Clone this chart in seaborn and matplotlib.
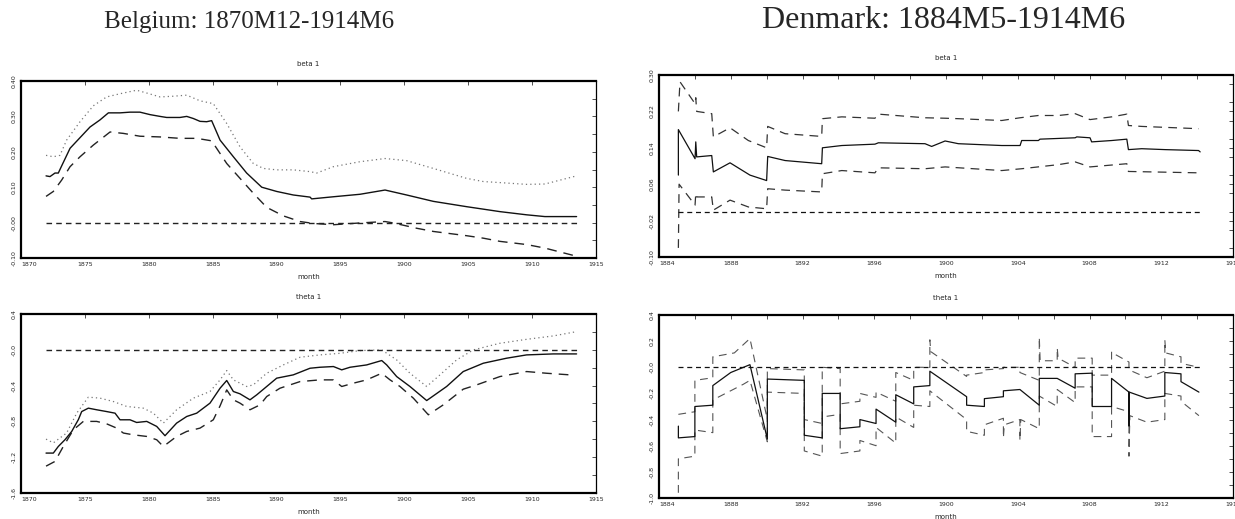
import matplotlib
matplotlib.use('Agg')
import matplotlib.pyplot as plt
import seaborn as sns
import numpy as np
from matplotlib.ticker import MultipleLocator

# ---- Belgium, beta 1 ----
bel_beta_est_x = [1871.96, 1872.27, 1872.66, 1872.92, 1873.18, 1873.84, 1874.62, 1875.40, 1876.18,
                  1876.84, 1877.75, 1878.53, 1879.31, 1880.10, 1880.88, 1881.40, 1882.44, 1882.97,
                  1883.49, 1884.01, 1884.53, 1884.92, 1885.58, 1886.62, 1887.66, 1888.84, 1890.01,
                  1891.31, 1892.62, 1892.75, 1894.45, 1896.53, 1898.49, 1900.18, 1902.27, 1904.87,
                  1906.18, 1907.48, 1909.57, 1911.00, 1913.48]
bel_beta_est = [0.132, 0.13, 0.14, 0.14, 0.16, 0.21, 0.24, 0.27, 0.29, 0.31, 0.31, 0.312, 0.312,
                0.305, 0.30, 0.297, 0.297, 0.30, 0.294, 0.286, 0.285, 0.288, 0.233, 0.186, 0.14,
                0.10, 0.088, 0.078, 0.072, 0.067, 0.073, 0.08, 0.092, 0.078, 0.06, 0.045, 0.038,
                0.031, 0.022, 0.017, 0.017]
bel_beta_up_x = [1871.96, 1872.53, 1873.05, 1873.57, 1874.62, 1875.66, 1876.70, 1877.75, 1879.05,
                 1879.84, 1880.88, 1881.92, 1882.97, 1884.01, 1885.05, 1886.10, 1887.14, 1888.18,
                 1888.97, 1890.01, 1891.31, 1892.62, 1893.14, 1894.45, 1896.53, 1898.49, 1900.18,
                 1902.27, 1904.87, 1906.18, 1907.48, 1909.57, 1911.00, 1913.48]
bel_beta_up = [0.19, 0.186, 0.19, 0.233, 0.285, 0.33, 0.355, 0.364, 0.374, 0.366, 0.355, 0.357,
               0.36, 0.344, 0.336, 0.28, 0.214, 0.167, 0.153, 0.149, 0.149, 0.144, 0.14, 0.158,
               0.172, 0.181, 0.175, 0.153, 0.125, 0.116, 0.113, 0.108, 0.109, 0.132]
bel_beta_lo_x = [1871.96, 1872.53, 1873.18, 1873.84, 1874.62, 1875.66, 1876.97, 1878.01, 1879.31,
                 1880.88, 1882.44, 1883.75, 1884.92, 1886.10, 1887.14, 1888.18, 1889.23, 1890.53,
                 1891.84, 1892.62, 1893.14, 1894.45, 1896.53, 1898.49, 1899.14, 1900.97, 1902.27,
                 1904.87, 1906.18, 1907.48, 1909.57, 1911.00, 1913.48]
bel_beta_lo = [0.074, 0.088, 0.12, 0.158, 0.186, 0.219, 0.256, 0.252, 0.244, 0.242, 0.238, 0.238,
               0.231, 0.167, 0.125, 0.083, 0.043, 0.019, 0.003, -0.001, -0.003, -0.006, -0.001,
               0.003, -0.001, -0.016, -0.025, -0.037, -0.044, -0.053, -0.062, -0.072, -0.095]

# ---- Belgium, theta 1 ----
bel_theta_est_x = [1871.96, 1872.53, 1872.92, 1873.44, 1873.97, 1874.49, 1874.75, 1875.27, 1875.92,
                   1876.70, 1877.36, 1877.75, 1878.53, 1879.05, 1879.84, 1880.62, 1881.27, 1882.18,
                   1882.97, 1883.75, 1884.27, 1884.79, 1885.58, 1886.10, 1886.62, 1887.14, 1887.92,
                   1888.45, 1889.23, 1890.01, 1891.31, 1892.62, 1893.40, 1894.45, 1895.10, 1895.75,
                   1897.05, 1898.23, 1898.62, 1899.40, 1900.44, 1901.75, 1903.31, 1904.61, 1906.18,
                   1908.00, 1909.57, 1911.66, 1913.48]
bel_theta_est = [-1.154, -1.154, -1.08, -1.005, -0.912, -0.78, -0.69, -0.652, -0.67, -0.69, -0.708,
                 -0.782, -0.782, -0.812, -0.80, -0.856, -0.96, -0.819, -0.745, -0.708, -0.652,
                 -0.596, -0.429, -0.343, -0.466, -0.492, -0.559, -0.503, -0.41, -0.317, -0.28,
                 -0.206, -0.195, -0.187, -0.224, -0.195, -0.169, -0.12, -0.169, -0.299, -0.41,
                 -0.567, -0.41, -0.243, -0.15, -0.094, -0.057, -0.046, -0.046]
bel_theta_up_x = [1871.96, 1872.53, 1873.57, 1874.36, 1875.27, 1876.18, 1877.23, 1878.27, 1879.57,
                  1880.36, 1881.14, 1882.18, 1883.49, 1884.79, 1885.58, 1886.10, 1886.62, 1887.66,
                  1888.18, 1889.23, 1890.53, 1891.84, 1893.40, 1894.97, 1896.53, 1898.23, 1899.40,
                  1900.44, 1901.75, 1902.79, 1904.09, 1905.40, 1907.48, 1909.57, 1911.66, 1913.48]
bel_theta_up = [-0.998, -1.04, -0.93, -0.708, -0.529, -0.54, -0.578, -0.633, -0.652, -0.708, -0.819,
                -0.67, -0.54, -0.466, -0.336, -0.232, -0.336, -0.41, -0.392, -0.262, -0.169,
                -0.083, -0.057, -0.039, -0.009, -0.001, -0.113, -0.262, -0.41, -0.28, -0.113,
                -0.001, 0.073, 0.117, 0.155, 0.203]
bel_theta_lo_x = [1871.96, 1872.66, 1873.31, 1874.10, 1874.88, 1875.92, 1876.70, 1877.49, 1878.01,
                  1878.79, 1879.84, 1880.62, 1881.14, 1882.18, 1882.97, 1884.01, 1885.05, 1885.58,
                  1886.10, 1886.62, 1887.14, 1887.92, 1888.71, 1889.23, 1890.27, 1891.84, 1893.40,
                  1894.45, 1895.10, 1896.01, 1897.05, 1898.23, 1898.88, 1899.66, 1900.71, 1901.88,
                  1903.05, 1904.61, 1905.66, 1907.48, 1909.57, 1911.13, 1912.96]
bel_theta_lo = [-1.30, -1.247, -1.08, -0.894, -0.80, -0.80, -0.827, -0.875, -0.93, -0.95, -0.968,
                -1.005, -1.08, -0.968, -0.912, -0.875, -0.782, -0.626, -0.448, -0.559, -0.596,
                -0.67, -0.615, -0.522, -0.429, -0.355, -0.336, -0.336, -0.41, -0.373, -0.336,
                -0.262, -0.336, -0.41, -0.541, -0.726, -0.615, -0.44, -0.392, -0.299, -0.243,
                -0.262, -0.28]
bel_span = [1871.96, 1913.48]

# ---- Denmark, beta 1 ----
dk_beta_est_x = [1885.08, 1885.08, 1886.01, 1886.05, 1886.10, 1886.94, 1887.03, 1887.96, 1889.07,
                 1890.00, 1890.06, 1891.03, 1893.07, 1893.11, 1894.19, 1896.04, 1896.23, 1898.83,
                 1899.20, 1899.95, 1900.69, 1903.11, 1904.13, 1904.22, 1905.15, 1905.24, 1907.20,
                 1907.29, 1908.03, 1908.12, 1909.24, 1910.08, 1910.17, 1910.91, 1912.22, 1914.08,
                 1914.17]
dk_beta_est = [0.08, 0.18, 0.116, 0.153, 0.12, 0.123, 0.087, 0.107, 0.08, 0.068, 0.121, 0.112,
               0.105, 0.14, 0.145, 0.148, 0.151, 0.149, 0.143, 0.155, 0.149, 0.145, 0.145, 0.156,
               0.156, 0.159, 0.162, 0.164, 0.162, 0.153, 0.156, 0.159, 0.136, 0.138, 0.136, 0.134,
               0.131]
dk_beta_up_x = [1885.08, 1885.17, 1886.01, 1886.05, 1886.10, 1886.94, 1887.03, 1887.96, 1888.98,
                1890.00, 1890.06, 1891.03, 1893.07, 1893.11, 1894.19, 1896.04, 1896.23, 1898.83,
                1899.95, 1900.69, 1903.11, 1904.13, 1905.15, 1906.27, 1907.20, 1908.03, 1909.24,
                1910.08, 1910.17, 1910.91, 1914.08]
dk_beta_up = [0.22, 0.285, 0.237, 0.25, 0.22, 0.215, 0.164, 0.184, 0.156, 0.14, 0.187, 0.171, 0.165,
              0.204, 0.208, 0.205, 0.214, 0.206, 0.205, 0.204, 0.20, 0.206, 0.211, 0.211, 0.215,
              0.202, 0.208, 0.214, 0.189, 0.187, 0.182]
dk_beta_lo_x = [1885.08, 1885.12, 1886.01, 1886.05, 1886.10, 1886.94, 1887.03, 1887.96, 1888.98,
                1890.00, 1890.06, 1891.03, 1893.07, 1893.11, 1894.19, 1896.04, 1896.23, 1898.83,
                1899.95, 1903.11, 1904.22, 1906.27, 1907.20, 1908.03, 1910.08, 1910.17, 1914.08]
dk_beta_lo = [-0.08, 0.06, 0.014, 0.04, 0.032, 0.032, 0.003, 0.025, 0.01, 0.006, 0.05, 0.047, 0.043,
              0.083, 0.09, 0.085, 0.096, 0.094, 0.098, 0.09, 0.094, 0.103, 0.109, 0.098, 0.105,
              0.088, 0.085]

# ---- Denmark, theta 1 ----
dk_theta_est_x = [1885.08, 1885.08, 1886.0, 1886.0, 1887.0, 1887.0, 1888.0, 1889.07, 1890.04,
                  1890.04, 1892.1, 1892.1, 1893.1, 1893.1, 1894.1, 1894.1, 1895.2, 1895.2, 1896.1,
                  1896.1, 1897.2, 1897.2, 1898.2, 1898.2, 1899.1, 1899.1, 1901.15, 1901.15, 1902.14,
                  1902.14, 1903.2, 1903.2, 1904.12, 1905.2, 1905.2, 1906.2, 1907.2, 1907.2, 1908.15,
                  1908.15, 1909.23, 1909.23, 1910.2, 1910.2, 1910.22, 1911.2, 1912.2, 1912.2, 1913.1,
                  1913.1, 1914.1]
dk_theta_est = [-0.45, -0.54, -0.53, -0.30, -0.29, -0.14, -0.04, 0.02, -0.55, -0.09, -0.10, -0.52,
                -0.54, -0.20, -0.20, -0.47, -0.455, -0.40, -0.43, -0.32, -0.42, -0.21, -0.28, -0.15,
                -0.14, -0.03, -0.225, -0.29, -0.30, -0.24, -0.225, -0.18, -0.17, -0.29, -0.085,
                -0.085, -0.16, -0.05, -0.045, -0.30, -0.30, -0.085, -0.19, -0.45, -0.19, -0.238,
                -0.22, -0.04, -0.05, -0.11, -0.19]
dk_theta_up_x = [1885.08, 1886.0, 1886.0, 1887.0, 1887.0, 1888.2, 1889.07, 1890.04, 1890.04, 1892.1,
                 1892.1, 1893.1, 1893.1, 1894.1, 1894.1, 1895.2, 1895.2, 1896.1, 1896.1, 1897.2,
                 1897.2, 1898.2, 1898.2, 1899.1, 1899.1, 1899.15, 1901.15, 1901.15, 1902.14, 1902.14,
                 1903.2, 1903.2, 1904.12, 1904.12, 1905.2, 1905.2, 1905.25, 1906.2, 1906.2, 1906.25,
                 1907.2, 1907.2, 1908.15, 1908.15, 1909.23, 1909.23, 1909.28, 1910.2, 1910.2, 1911.2,
                 1912.2, 1912.2, 1912.25, 1913.1, 1913.1, 1914.1]
dk_theta_up = [-0.36, -0.34, -0.10, -0.08, 0.08, 0.11, 0.22, -0.40, -0.01, -0.02, -0.40, -0.43, 0.0,
               -0.01, -0.28, -0.26, -0.20, -0.23, -0.19, -0.26, -0.04, -0.10, 0.0, 0.0, 0.21, 0.12,
               -0.07, -0.06, -0.04, -0.02, -0.01, 0.0, 0.0, -0.04, -0.10, 0.23, 0.05, 0.05, 0.15,
               0.07, 0.0, 0.07, 0.07, -0.06, -0.06, 0.12, 0.11, 0.04, -0.02, -0.08, -0.03, 0.21,
               0.11, 0.08, 0.03, 0.0]
dk_theta_lo_x = [1885.08, 1885.08, 1886.0, 1886.0, 1887.0, 1887.0, 1888.7, 1889.07, 1890.04, 1890.04,
                 1892.1, 1892.1, 1893.1, 1893.1, 1894.1, 1894.1, 1895.2, 1895.2, 1896.1, 1896.1,
                 1897.2, 1897.2, 1898.2, 1898.2, 1899.1, 1899.1, 1901.15, 1901.15, 1902.14, 1902.14,
                 1903.2, 1903.2, 1903.25, 1904.12, 1904.12, 1904.17, 1905.2, 1905.2, 1906.2, 1906.2,
                 1907.2, 1907.2, 1908.15, 1908.15, 1909.23, 1909.23, 1910.2, 1910.2, 1910.25, 1911.2,
                 1912.2, 1912.2, 1913.1, 1913.1, 1914.1]
dk_theta_lo = [-0.96, -0.70, -0.68, -0.48, -0.50, -0.25, -0.13, -0.10, -0.57, -0.19, -0.20, -0.64,
               -0.68, -0.38, -0.36, -0.66, -0.64, -0.56, -0.60, -0.46, -0.58, -0.38, -0.46, -0.29,
               -0.30, -0.18, -0.40, -0.49, -0.52, -0.44, -0.39, -0.54, -0.44, -0.40, -0.56, -0.40,
               -0.47, -0.22, -0.30, -0.17, -0.27, -0.15, -0.15, -0.53, -0.53, -0.30, -0.34, -0.68,
               -0.37, -0.42, -0.40, -0.20, -0.22, -0.26, -0.37]
dk_span = [1885.08, 1914.17]

# axis ticks and labels
bel_xticks = [1870, 1875, 1880, 1885, 1890, 1895, 1900, 1905, 1910, 1915]
dk_xticks = [1884, 1888, 1892, 1896, 1900, 1904, 1908, 1912, 1916]
bel_beta_yticks = [-0.10, 0.0, 0.10, 0.20, 0.30, 0.40]
bel_beta_ylabels = ['-0.10', '-0.00', '0.10', '0.20', '0.30', '0.40']
bel_theta_yticks = [-1.6, -1.2, -0.8, -0.4, 0.0, 0.4]
bel_theta_ylabels = ['-1.6', '-1.2', '-0.8', '-0.4', '-0.0', '0.4']
dk_beta_yticks = [-0.10, -0.02, 0.06, 0.14, 0.22, 0.30]
dk_beta_ylabels = ['-0.10', '-0.02', '0.06', '0.14', '0.22', '0.30']
dk_theta_yticks = [-1.0, -0.8, -0.6, -0.4, -0.2, 0.0, 0.2, 0.4]
dk_theta_ylabels = ['-1.0', '-0.8', '-0.6', '-0.4', '-0.2', '-0.0', '0.2', '0.4']

sns.set_style('white')
plt.rcParams['font.family'] = ['DejaVu Sans']

fig = plt.figure(figsize=(12.35, 5.19), dpi=100)

LONG_DASH = (0, (7, 5))
SHORT_DASH = (0, (4, 3))


def line(ax, x, y, color, ls, lw):
    sns.lineplot(x=x, y=y, ax=ax, estimator=None, sort=False, color=color,
                 linestyle=ls, linewidth=lw)


def style_panel(ax, title, xlim, ylim, xticks, yticks, ylabels, xminor, yminor):
    ax.set_xlim(*xlim)
    ax.set_ylim(*ylim)
    ax.set_xticks(xticks)
    ax.set_xticklabels([str(t) for t in xticks], fontsize=4.5)
    # first year label sits just right of the corner, like the original
    ax.get_xticklabels()[0].set_ha('left')
    ax.set_yticks(yticks)
    ax.set_yticklabels(ylabels, fontsize=4.5, rotation=90, va='center')
    ax.xaxis.set_minor_locator(MultipleLocator(xminor))
    ax.yaxis.set_minor_locator(MultipleLocator(yminor))
    ax.tick_params(which='both', direction='in', top=True, right=True,
                   length=3, width=0.6, pad=3, color='#333333')
    ax.tick_params(axis='x', which='minor', bottom=False)
    ax.set_title(title, fontsize=5, pad=11)
    ax.set_xlabel('month', fontsize=5, labelpad=5)
    ax.set_ylabel('')
    for side in ['top', 'left', 'bottom']:
        ax.spines[side].set_linewidth(1.6)
        ax.spines[side].set_color('black')
    ax.spines['right'].set_linewidth(0.9)
    ax.spines['right'].set_color('black')


# Belgium beta
ax1 = fig.add_axes([21 / 1235, 1 - 258 / 519, 575 / 1235, 177 / 519])
line(ax1, bel_beta_up_x, bel_beta_up, '#777777', (0, (1, 2.5)), 0.9)
line(ax1, bel_beta_lo_x, bel_beta_lo, '#222222', LONG_DASH, 1.0)
line(ax1, bel_beta_est_x, bel_beta_est, '#111111', '-', 1.0)
line(ax1, bel_span, [0, 0], '#222222', SHORT_DASH, 1.0)
style_panel(ax1, 'beta 1', (1870, 1915), (-0.10, 0.40), bel_xticks,
            bel_beta_yticks, bel_beta_ylabels, 5, 0.05)

# Belgium theta
ax2 = fig.add_axes([21 / 1235, 1 - 493 / 519, 575 / 1235, 179 / 519])
line(ax2, bel_theta_up_x, bel_theta_up, '#777777', (0, (1, 2.5)), 0.9)
line(ax2, bel_theta_lo_x, bel_theta_lo, '#222222', LONG_DASH, 1.0)
line(ax2, bel_theta_est_x, bel_theta_est, '#111111', '-', 1.0)
line(ax2, bel_span, [0, 0], '#222222', SHORT_DASH, 1.0)
style_panel(ax2, 'theta 1', (1870, 1915), (-1.6, 0.4), bel_xticks,
            bel_theta_yticks, bel_theta_ylabels, 5, 0.2)

# Denmark beta
ax3 = fig.add_axes([659 / 1235, 1 - 257 / 519, 574 / 1235, 182 / 519])
line(ax3, dk_beta_up_x, dk_beta_up, '#333333', LONG_DASH, 0.9)
line(ax3, dk_beta_lo_x, dk_beta_lo, '#333333', LONG_DASH, 0.9)
line(ax3, dk_beta_est_x, dk_beta_est, '#111111', '-', 0.9)
line(ax3, dk_span, [0, 0], '#111111', SHORT_DASH, 0.9)
style_panel(ax3, 'beta 1', (1884, 1916), (-0.10, 0.30), dk_xticks,
            dk_beta_yticks, dk_beta_ylabels, 2, 0.04)

# Denmark theta
ax4 = fig.add_axes([659 / 1235, 1 - 498 / 519, 574 / 1235, 183 / 519])
line(ax4, dk_theta_up_x, dk_theta_up, '#555555', LONG_DASH, 0.8)
line(ax4, dk_theta_lo_x, dk_theta_lo, '#555555', LONG_DASH, 0.8)
line(ax4, dk_theta_est_x, dk_theta_est, '#111111', '-', 0.9)
line(ax4, dk_span, [0, 0], '#111111', SHORT_DASH, 0.9)
style_panel(ax4, 'theta 1', (1884, 1916), (-1.0, 0.4), dk_xticks,
            dk_theta_yticks, dk_theta_ylabels, 2, 0.1)

fig.text(249 / 1235, 1 - 22 / 519, 'Belgium: 1870M12-1914M6', ha='center', va='center',
         fontsize=18, family='Liberation Serif')
fig.text(944 / 1235, 1 - 20 / 519, 'Denmark: 1884M5-1914M6', ha='center', va='center',
         fontsize=23, family='Liberation Serif')

fig.savefig('out.png', dpi=100)
